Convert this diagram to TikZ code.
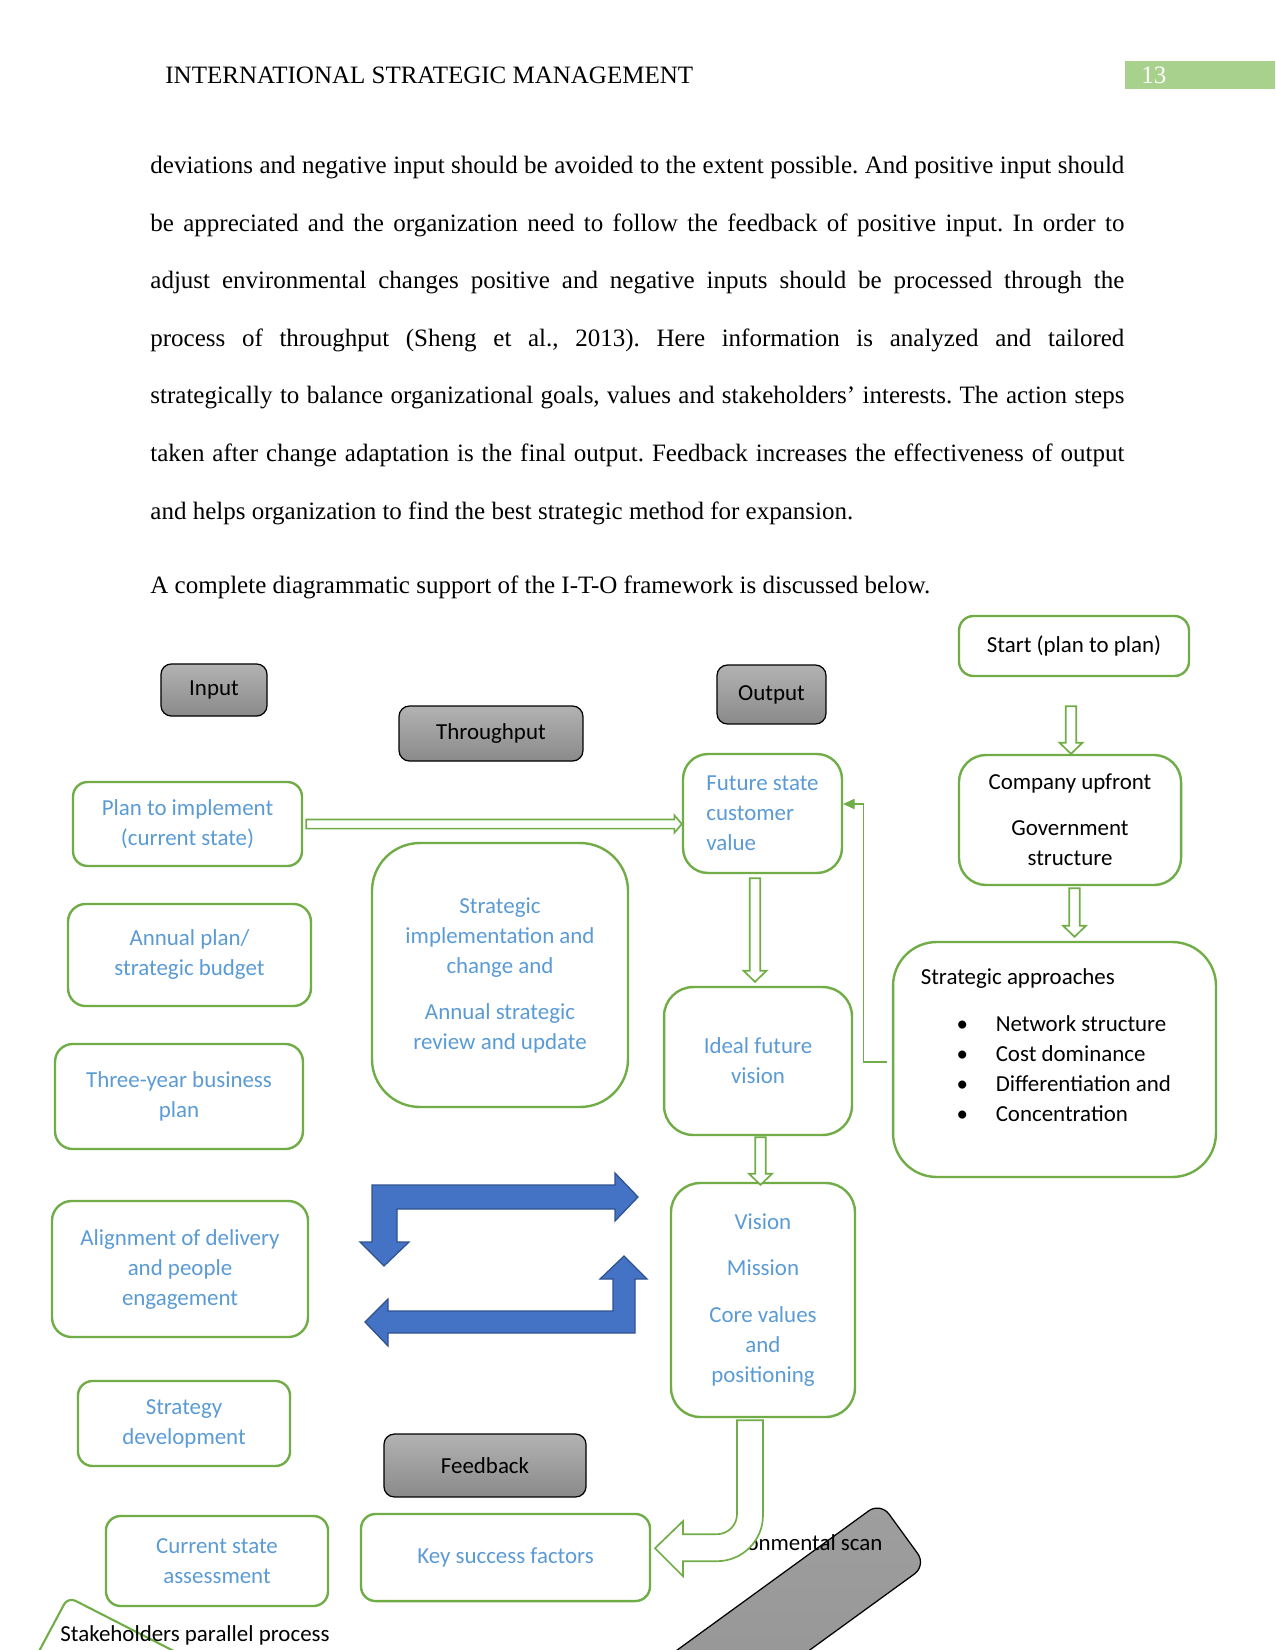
\documentclass[tikz,border=0pt]{standalone}
\usepackage{fontspec}
\setmainfont{Liberation Serif}
\newfontfamily\calfont{Carlito}
\usetikzlibrary{calc,arrows.meta}
\definecolor{boxgreen}{HTML}{70AD47}
\definecolor{txtblue}{HTML}{5B9BD5}
\definecolor{arrowblue}{HTML}{4472C4}
\definecolor{arrowedge}{HTML}{2F528F}
\definecolor{pagegreen}{HTML}{A9D18E}
\frenchspacing
\tikzset{
 gbox/.style={draw=boxgreen, line width=1.15pt, fill=white, inner sep=0pt, align=center,
   font=\calfont\fontsize{11}{14.4}\selectfont, text=txtblue},
 graybox/.style={draw=black, line width=0.6pt, top color=black!30, bottom color=black!46,
   rounded corners=5pt, inner sep=0pt, font=\calfont\fontsize{11}{13}\selectfont},
 hollow/.style={draw=boxgreen, line width=0.8pt, fill=white},
 bluearrow/.style={fill=arrowblue, draw=arrowedge, line width=0.6pt},
 bodyline/.style={anchor=base west, inner sep=0pt, font=\frenchspacing\fontsize{12}{14}\selectfont},
 feedline/.style={draw=boxgreen, line width=0.5pt, -{Triangle[length=5.5pt,width=5pt]}},
 caltext/.style={inner sep=0pt, font=\calfont\fontsize{11}{14.4}\selectfont},
}
\newcommand\hollowdown[2]{%
  \draw[hollow] let \p1=(#1), \p2=(#2) in
   (\x1-2.5pt,\y1) -- (\x1-2.5pt,\y2+5.3pt) -- (\x1-5.5pt,\y2+5.3pt) -- (\x1,\y2)
   -- (\x1+5.5pt,\y2+5.3pt) -- (\x1+2.5pt,\y2+5.3pt) -- (\x1+2.5pt,\y1) -- cycle;}
\newcommand\hollowright[2]{%
  \draw[hollow] let \p1=(#1), \p2=(#2) in
   (\x1,\y1+2.2pt) -- (\x2-3.6pt,\y1+2.2pt) -- (\x2-3.6pt,\y1+4.2pt) -- (\x2,\y1)
   -- (\x2-3.6pt,\y1-4.2pt) -- (\x2-3.6pt,\y1-2.2pt) -- (\x1,\y1-2.2pt) -- cycle;}
\begin{document}
\begin{tikzpicture}[x=0.48pt,y=-0.48pt]
\useasboundingbox (0,0) rectangle (1275,1650);
\path[clip] (0,0) rectangle (1275,1650);
\fill[white] (0,0) rectangle (1275,1650);

% header
\node[bodyline] (head) at (165,84) {INTERNATIONAL STRATEGIC MANAGEMENT};
\node[fill=pagegreen, anchor=north west, minimum width=72pt, minimum height=13.4pt, inner sep=0pt] (pgbox) at (1125,61) {};
\node[bodyline, text=white] (pgnum) at (1141,84) {13};

% body text
\node[bodyline] (l1) at (150,174) {\makebox[467.5pt][s]{deviations and negative input should be avoided to the extent possible. And positive input should}};
\node[bodyline] (l2) at (150,231.5) {\makebox[467.5pt][s]{be appreciated and the organization need to follow the feedback of positive input. In order to}};
\node[bodyline] (l3) at (150,289) {\makebox[467.5pt][s]{adjust environmental changes positive and negative inputs should be processed through the}};
\node[bodyline] (l4) at (150,346.5) {\makebox[467.5pt][s]{process of throughput (Sheng et al., 2013). Here information is analyzed and tailored}};
\node[bodyline] (l5) at (150,404) {\makebox[467.5pt][s]{strategically to balance organizational goals, values and stakeholders’ interests. The action steps}};
\node[bodyline] (l6) at (150,461.5) {\makebox[467.5pt][s]{taken after change adaptation is the final output. Feedback increases the effectiveness of output}};
\node[bodyline] (l7) at (150,519) {and helps organization to find the best strategic method for expansion.};
\node[bodyline] (l8) at (150,593.5) {A complete diagrammatic support of the I-T-O framework is discussed below.};

% gray headers
\node[graybox, minimum width=50.9pt, minimum height=25pt] (input) at (214,690) {Input};
\node[graybox, minimum width=88.3pt, minimum height=26.4pt] (through) at (491,733.5) {Throughput};
\node[graybox, minimum width=52.3pt, minimum height=28.3pt] (output) at (771.5,694.5) {Output};
\node[graybox, minimum width=97pt, minimum height=30.2pt] (feedback) at (485,1465.5) {Feedback};

% right column
\node[gbox, text=black, rounded corners=7pt, minimum width=110.4pt, minimum height=28.8pt] (start) at (1074,646) {Start (plan to plan)};
\node[gbox, text=black, rounded corners=13pt, minimum width=106.6pt, minimum height=62.4pt] (company) at (1070,820) {Company upfront\\[7.7pt]Government\\structure};
\node[gbox, rounded corners=21pt, minimum width=155pt, minimum height=112.8pt] (strat) at (1054.5,1059.5) {};
\node[caltext, anchor=west, align=left, text=black] (strattxt) at ($(strat.west)+(28.5,-14.5)$) {Strategic approaches\\[8.1pt]
\hspace*{19.9pt}\makebox[0pt]{•}\hspace*{16.1pt}Network structure\\
\hspace*{19.9pt}\makebox[0pt]{•}\hspace*{16.1pt}Cost dominance\\
\hspace*{19.9pt}\makebox[0pt]{•}\hspace*{16.1pt}Differentiation and\\
\hspace*{19.9pt}\makebox[0pt]{•}\hspace*{16.1pt}Concentration};

% output column
\node[gbox, align=left, rounded corners=12pt, minimum width=76.3pt, minimum height=57.1pt] (future) at (762.5,813.5) {Future state\\customer\\value};
\node[gbox, rounded corners=14pt, minimum width=90.2pt, minimum height=71pt] (ideal) at (758,1061) {Ideal future\\vision};
\node[gbox, rounded corners=14pt, minimum width=88.3pt, minimum height=112.3pt] (vision) at (763,1300) {Vision\\[8.1pt]Mission\\[8.1pt]Core values\\and\\positioning};

% throughput
\node[gbox, rounded corners=23pt, minimum width=122.9pt, minimum height=126.7pt] (impl) at (500,975) {Strategic\\implementation and\\change and\\[7.7pt]Annual strategic\\review and update};
\node[gbox, rounded corners=7pt, minimum width=138.7pt, minimum height=41.8pt] (key) at (505.5,1557.5) {Key success factors};

% input column
\node[gbox, rounded corners=7pt, minimum width=109.9pt, minimum height=40.3pt] (plan) at (187.5,824) {Plan to implement\\(current state)};
\node[gbox, rounded corners=8.5pt, minimum width=116.6pt, minimum height=49pt] (annual) at (189.5,955) {Annual plan/\\strategic budget};
\node[gbox, rounded corners=8.5pt, minimum width=119pt, minimum height=50.4pt] (three) at (179,1096.5) {Three-year business\\plan};
\node[gbox, rounded corners=9.5pt, minimum width=122.9pt, minimum height=65.3pt] (align) at (180,1269) {Alignment of delivery\\and people\\engagement};
\node[gbox, rounded corners=7pt, minimum width=101.8pt, minimum height=40.8pt] (stratdev) at (184,1423.5) {Strategy\\development};
\node[gbox, rounded corners=7pt, minimum width=106.6pt, minimum height=43.2pt] (current) at (217,1561) {Current state\\assessment};

% hollow arrows
\hollowdown{$(start.south)+(-3,29)$}{company.north}
\hollowdown{$(company.south)+(4.5,2)$}{$(strat.north)+(0,-4)$}
\hollowdown{$(future.south)+(-7.5,4)$}{$(ideal.north)+(0,-4)$}
\hollowdown{$(ideal.south)+(2.5,1)$}{$(vision.north)+(0,3)$}
\hollowright{$(plan.east)+(3,0)$}{future.west}

% feedback line
\draw[feedline] ($(strat.west)+(-5,2.5)$) -- ++(-23,0) |- ($(future.east)+(0,-9.5)$);

% blue cycle arrows
\draw[bluearrow] (372,1185) -- (615,1185) -- (615,1173) -- (638,1197) -- (615,1221) -- (615,1209)
  -- (397,1209) -- (397,1242) -- (409,1242) -- (384,1266) -- (360,1242) -- (372,1242) -- cycle;
\draw[bluearrow] (635,1333) -- (388,1333) -- (388,1346) -- (365,1322) -- (388,1299) -- (388,1311)
  -- (613,1311) -- (613,1279) -- (600,1279) -- (624,1256) -- (647,1279) -- (635,1279) -- cycle;

% environmental scan
\node[graybox, rounded corners=7pt, rotate=36, top color=black!38, bottom color=black!42, minimum width=144pt, minimum height=37.4pt] (envbox) at (782,1622) {};
\node[caltext, anchor=base west] (envtxt) at (700,1550) {Environmental scan};

% U-turn arrow from vision to key success factors
\begin{scope}[shift={(vision.south)}]
\draw[hollow] (-26,2) -- (-26,96) .. controls (-26,107) and (-35,116) .. (-46,116) -- (-80,116)
  -- (-80,103) -- (-108,130) -- (-80,158) -- (-80,143) -- (-46,143)
  .. controls (-20.6,143) and (0,122.4) .. (0,97) -- (0,2) -- cycle;
\end{scope}

% stakeholders
\draw[boxgreen, line width=1pt, rounded corners=4pt] (29,1670) -- (68,1597) -- (211,1670);
\node[caltext, anchor=base west] (stake) at (60,1641) {Stakeholders parallel process};
\end{tikzpicture}
\end{document}
